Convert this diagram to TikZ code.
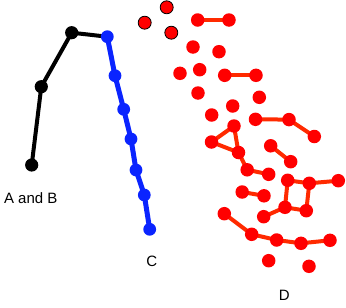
\documentclass[tikz,border=0pt]{standalone}
\usepackage{fontspec}
\setmainfont{Liberation Sans}
\usepackage{tikz}
\usetikzlibrary{positioning,backgrounds}
\definecolor{ptred}   {HTML}{FF0000}
\definecolor{ptorange}{HTML}{FF2A00}
\definecolor{ptblue}  {HTML}{0A24FF}
\tikzset{
  ptdot/.style={circle, inner sep=0pt, minimum size=13.5pt},
  ptreddot/.style={ptdot, fill=ptred},
  ptoutdot/.style={ptdot, fill=ptred, draw=black, line width=0.8pt, minimum size=13pt},
  ptbluedot/.style={ptdot, fill=ptblue, minimum size=12.8pt},
  ptblackdot/.style={ptdot, fill=black, minimum size=13.2pt},
  ptredge/.style={draw=ptorange, line width=4pt},
  ptbedge/.style={draw=ptblue, line width=5pt},
  ptkedge/.style={draw=black, line width=4pt},
  ptlabel/.style={font=\fontsize{15}{17}\selectfont, inner sep=0pt},
}
\begin{document}
\begin{tikzpicture}[x=1pt,y=-1pt]
  \useasboundingbox (0,0) rectangle (346,308);
  % black chain
  \node[ptblackdot] (k1) at (71.7,32.7)  {};
  \node[ptblackdot] (k2) at (41.3,86.7)  {};
  \node[ptblackdot] (k3) at (31.7,165)   {};
  % blue chain
  \node[ptbluedot] (c1) at (107.3,36.7)  {};
  \node[ptbluedot] (c2) at (115,75.7)    {};
  \node[ptbluedot] (c3) at (123.7,109.3) {};
  \node[ptbluedot] (c4) at (131,139)     {};
  \node[ptbluedot] (c5) at (136,170)     {};
  \node[ptbluedot] (c6) at (144.3,195)   {};
  \node[ptbluedot] (c7) at (149.7,229.3) {};
  % outlined red dots
  \node[ptoutdot] (o1) at (166.7,7.3)  {};
  \node[ptoutdot] (o2) at (144.7,22.7) {};
  \node[ptoutdot] (o3) at (171.3,32.7) {};
  % red dots
  \node[ptreddot] (d1)  at (197.7,20)    {};
  \node[ptreddot] (d2)  at (229,20)      {};
  \node[ptreddot] (d3)  at (193,47)      {};
  \node[ptreddot] (d4)  at (219,51.7)    {};
  \node[ptreddot] (d5)  at (180,73.3)    {};
  \node[ptreddot] (d6)  at (199.7,69.7)  {};
  \node[ptreddot] (d7)  at (224.7,75.3)  {};
  \node[ptreddot] (d8)  at (256,75.3)    {};
  \node[ptreddot] (d9)  at (198,93)      {};
  \node[ptreddot] (d10) at (259.3,97.3)  {};
  \node[ptreddot] (d11) at (211.7,115)   {};
  \node[ptreddot] (d12) at (232.7,106)   {};
  \node[ptreddot] (d13) at (255.5,119.3) {};
  \node[ptreddot] (d14) at (289,119.6)   {};
  \node[ptreddot] (d15) at (314.3,136.5) {};
  \node[ptreddot] (d16) at (234,126)     {};
  \node[ptreddot] (d17) at (211.5,142)   {};
  \node[ptreddot] (d18) at (238.5,152.5) {};
  \node[ptreddot] (d19) at (247.2,169.8) {};
  \node[ptreddot] (d20) at (268.7,174.3) {};
  \node[ptreddot] (d21) at (270.7,145.8) {};
  \node[ptreddot] (d22) at (290.7,161.7) {};
  \node[ptreddot] (d23) at (242.2,192)   {};
  \node[ptreddot] (d24) at (264,195.8)   {};
  \node[ptreddot] (d25) at (287.7,180.3) {};
  \node[ptreddot] (d26) at (309.3,183.3) {};
  \node[ptreddot] (d27) at (338.3,180.7) {};
  \node[ptreddot] (d28) at (285,207.3)   {};
  \node[ptreddot] (d29) at (306.3,210.7) {};
  \node[ptreddot] (d30) at (263.7,216.7) {};
  \node[ptreddot] (d31) at (224.3,213.7) {};
  \node[ptreddot] (d32) at (251.7,234.3) {};
  \node[ptreddot] (d33) at (276.7,240)   {};
  \node[ptreddot] (d34) at (301,243.3)   {};
  \node[ptreddot] (d35) at (330,240.3)   {};
  \node[ptreddot] (d36) at (268.7,260.7) {};
  \node[ptreddot] (d37) at (309,266.3)   {};
  \begin{scope}[on background layer]
    \draw[ptkedge] (k3.center)--(k2.center)--(k1.center)--(c1.center);
    \draw[ptbedge] (c1.center)--(c2.center)--(c3.center)--(c4.center)
                   --(c5.center)--(c6.center)--(c7.center);
    \draw[ptredge] (d1.center)--(d2.center);
    \draw[ptredge] (d7.center)--(d8.center);
    \draw[ptredge] (d13.center)--(d14.center)--(d15.center);
    \draw[ptredge] (d16.center)--(d17.center)--(d18.center)--cycle;
    \draw[ptredge] (d18.center)--(d19.center)--(d20.center);
    \draw[ptredge] (d21.center)--(d22.center);
    \draw[ptredge] (d23.center)--(d24.center);
    \draw[ptredge] (d27.center)--(d26.center)--(d25.center)--(d28.center)--(d29.center)--(d26.center);
    \draw[ptredge] (d28.center)--(d30.center);
    \draw[ptredge] (d31.center)--(d32.center)--(d33.center)--(d34.center)--(d35.center);
  \end{scope}
  \node[ptlabel] (lab) at (30.7,198) {A and B};
  \node[ptlabel] (labc) at (151.7,261) {C};
  \node[ptlabel] (labd) at (284.2,295) {D};
\end{tikzpicture}
\end{document}
